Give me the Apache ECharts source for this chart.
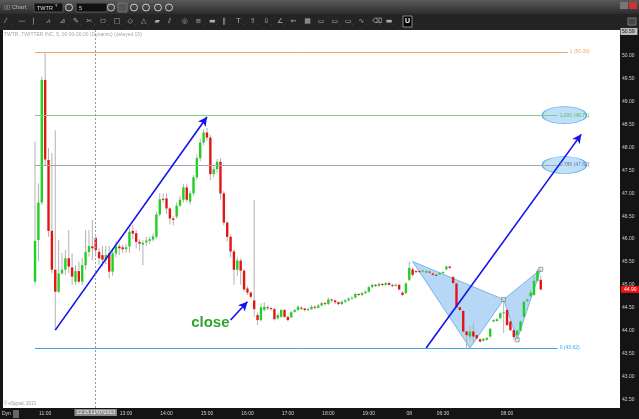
<!DOCTYPE html>
<html><head><meta charset="utf-8">
<script src="https://cdn.jsdelivr.net/npm/echarts@6/dist/echarts.min.js"></script>
<style>html,body{margin:0;padding:0;background:#141414;}#c{width:639px;height:419px;}</style>
</head><body><div id="c"></div>
<script>
// ---- data: 5-minute bars [open, close, low, high] ----
const day1 = [
[45.07,45.96,45.00,48.13],[45.98,46.80,45.51,47.22],[46.80,49.48,46.75,49.55],[49.48,47.74,47.60,50.09],
[47.73,46.18,46.05,47.99],[46.18,45.33,45.25,47.88],[45.33,44.85,44.01,48.38],[44.85,45.25,44.82,45.98],
[45.25,45.33,45.22,45.70],[45.33,45.58,45.22,45.76],[45.58,45.40,45.26,46.20],[45.38,45.18,45.00,45.69],
[45.07,45.30,45.00,45.43],[45.30,45.07,45.03,45.51],[45.07,45.43,45.00,45.59],[45.43,45.72,45.33,46.20],
[45.72,45.85,45.62,46.20],[45.84,45.80,45.54,46.42],[46.03,45.76,45.62,46.05],[45.72,45.58,45.44,45.80],
[45.65,45.55,45.40,45.85],[45.55,45.65,45.45,45.85],[45.69,45.29,45.14,45.85],[45.29,45.69,45.20,45.80],
[45.69,45.84,45.60,45.95],[45.84,45.80,45.65,45.90],[45.82,45.78,45.70,45.88],[45.78,45.82,45.70,45.90],
[45.84,46.16,45.70,46.24],[46.18,46.12,46.00,46.30],[46.13,45.94,45.80,46.20],[45.94,45.90,45.75,46.00],
[45.88,45.92,45.43,45.98],[45.93,45.97,45.85,46.05],[45.96,46.00,45.90,46.05],[45.99,46.06,45.95,46.12],
[46.05,46.54,46.00,46.60],[46.54,46.87,46.50,47.00],[46.88,46.86,46.80,47.00],[46.89,46.67,46.55,47.00],
[46.67,46.45,46.32,46.70],[46.45,46.42,46.30,46.50],[46.49,46.73,46.45,46.80],[46.73,46.86,46.70,46.95],
[46.86,47.13,46.80,47.20],[47.13,46.86,46.80,47.20],[46.82,47.00,46.75,47.05],[47.00,47.35,46.95,47.40],
[47.35,47.77,47.30,47.85],[47.77,48.11,47.70,48.20],[48.11,48.33,48.05,48.40],[48.33,48.22,48.15,48.43],
[48.22,47.42,47.29,48.28],[47.42,47.53,47.35,47.60],[47.53,47.69,47.45,47.75],[47.69,47.00,46.86,47.77],
[47.00,46.36,46.30,47.05],[46.36,46.05,45.95,46.40],[46.05,45.73,45.60,46.10],[45.73,45.33,45.00,45.78],
[45.33,45.53,45.20,45.60],[45.53,45.31,45.00,45.58],[45.31,44.90,44.85,45.35],[44.92,44.83,44.78,44.97]
];
const afterHours = [
[44.83,44.74,44.70,44.86],[44.66,44.47,44.30,46.86],[44.34,44.23,44.12,44.40],[44.23,44.51,44.20,44.60],
[44.45,44.52,44.42,44.62],[44.51,44.49,44.45,44.55],[44.49,44.47,44.44,44.52],[44.47,44.25,44.22,44.50],
[44.27,44.34,44.24,44.38],[44.30,44.45,44.28,44.48],[44.45,44.30,44.27,44.47],[44.30,44.23,44.20,44.33],
[44.29,44.40,44.27,44.43],[44.41,44.45,44.39,44.48],[44.45,44.52,44.43,44.55],[44.50,44.48,44.45,44.53],
[44.48,44.45,44.42,44.50],[44.45,44.47,44.43,44.50],[44.47,44.52,44.45,44.55],[44.52,44.50,44.47,44.55],
[44.50,44.55,44.48,44.58],[44.55,44.60,44.53,44.63],[44.60,44.58,44.55,44.62],[44.58,44.68,44.56,44.72],
[44.68,44.66,44.62,44.70],[44.66,44.62,44.58,44.68],[44.62,44.58,44.55,44.64],[44.58,44.63,44.56,44.66],
[44.63,44.66,44.60,44.69],[44.66,44.70,44.64,44.73],[44.70,44.72,44.68,44.75],[44.72,44.80,44.70,44.83],
[44.80,44.78,44.75,44.82],[44.78,44.82,44.76,44.85],[44.82,44.85,44.80,44.88],[44.85,44.95,44.83,44.98],
[44.95,45.00,44.93,45.03],[45.00,44.98,44.95,45.02],[44.98,45.02,44.96,45.05],[45.02,45.00,44.97,45.04],
[45.00,45.04,44.98,45.06],[45.04,45.00,44.98,45.06],[45.00,44.98,44.95,45.02],[44.98,45.00,44.96,45.03],
[45.00,44.90,44.88,45.02],[44.83,44.78,44.75,44.86],[44.82,45.03,44.80,45.06]
];
const day2 = [
[45.11,45.37,45.08,45.51],[45.34,45.22,45.18,45.38],[45.30,45.28,45.25,45.33],[45.30,45.29,45.26,45.32],
[45.30,45.31,45.27,45.34],[45.27,45.30,45.25,45.32],[45.29,45.28,45.25,45.31],[45.25,45.22,45.20,45.27],
[45.22,45.21,45.19,45.24],[45.23,45.26,45.21,45.28],[45.26,45.28,45.24,45.30],[45.34,45.40,45.32,45.42],
[45.40,45.37,45.35,45.42],[45.17,45.04,45.02,45.20],[45.03,44.51,44.49,45.05],[44.51,44.45,44.42,44.53],
[44.43,43.98,43.95,44.45],[43.98,43.90,43.62,44.00],[43.87,43.98,43.80,44.10],[43.98,43.87,43.72,44.16],
[43.90,43.83,43.80,43.92],[43.81,43.76,43.74,43.83],[43.78,43.82,43.76,43.84],[43.80,43.84,43.78,43.86],
[43.87,44.04,43.85,44.05],[44.20,44.23,44.18,44.25],[44.21,44.25,44.19,44.27],[44.27,44.38,44.25,44.40],
[44.38,44.40,43.95,44.68],[44.45,44.12,44.10,44.50],[44.20,44.01,43.99,44.22],[44.01,43.86,43.80,44.03],
[43.90,44.00,43.88,44.02],[44.00,44.20,43.98,44.22],[44.30,44.63,44.28,44.65],[44.65,44.68,44.62,44.70],
[44.75,44.83,44.73,44.90],[44.78,45.09,44.76,45.20],[45.09,45.30,45.07,45.34],[45.11,44.90,44.88,45.20]
];
const padLeft = 9, totalSlots = 183;
// x tick labels: [slot index, text]
const xTicks = [[12,'11:00'],[36,'13:00'],[48,'14:00'],[60,'15:00'],[72,'16:00'],[84,'17:00'],[96,'18:00'],[108,'19:00'],[120,'08'],[130,'06:30'],[149,'08:00']];
// fibonacci levels
const fibLevels = [50.09, 48.71, 47.62, 43.62];
const fibLabels = ['1 (50.09)', '1.000 (48.71)', '0.786 (47.62)', '0 (43.62)'];
const fibColors = ['#f6a265', '#7fcf7f', '#a4a4b4', '#3aa6f0'];
const fibTextColors = ['#f6a265', '#5cb85c', '#6a7a9a', '#3aa6f0'];
const fibEnd = [167, 164, 164, 164];
// trend arrows [x1, p1, x2, p2]
const arrows = [[15,44.01,60,48.67],[67,44.23,72,44.63],[125,43.62,171,48.29]];
// butterfly pattern vertices
const patXAB = [[121,45.51],[138,43.62],[148,44.68]];
const patBCD = [[148,44.68],[152,43.80],[159,45.34]];
const patMarks = [[148,44.68],[152,43.80],[159,45.34]];
// target ellipses
const targets = [[166,48.71],[166,47.62]];
const crossSlot = 27, crossLabel = '12:15 11/07/2013';
const lastPrice = 44.90;

const bars = day1.concat(afterHours, day2);
const categories = [];
for (let i = 0; i < totalSlots; i++) categories.push('s' + i);
const candleData = bars.map((r, i) => [i + padLeft, r[0], r[1], r[2], r[3]]);
const tickMap = {}; xTicks.forEach(t => tickMap[t[0]] = t[1]);

const chart = echarts.init(document.getElementById('c'), null, {renderer: 'canvas'});

function polyItem(pts) {
  return function (params, api) {
    const points = pts.map(p => api.coord([p[0], p[1]]));
    return {type: 'polygon', shape: {points: points},
      style: {fill: 'rgba(110,175,238,0.50)', stroke: '#78b6ea', lineWidth: 1}};
  };
}

const markLines = [];
fibLevels.forEach((v, k) => {
  markLines.push([
    {coord: [padLeft, v], lineStyle: {color: fibColors[k], width: 1, type: 'solid'},
     label: {show: true, position: 'end', formatter: fibLabels[k], color: fibTextColors[k], fontSize: 5, distance: 2}},
    {coord: [fibEnd[k], v]}
  ]);
});
arrows.forEach(a => {
  markLines.push([
    {coord: [a[0], a[1]], symbol: 'none', lineStyle: {color: '#1212ee', width: 1.6, type: 'solid'}, label: {show: false}},
    {coord: [a[2], a[3]], symbol: 'arrow', symbolSize: [7, 9]}
  ]);
});
markLines.push({xAxis: crossSlot, symbol: 'none', lineStyle: {color: '#9a9a9a', type: [2, 2], width: 1},
  label: {show: true, position: 'start', formatter: crossLabel, color: '#fff', backgroundColor: '#8c8c8c', fontSize: 5, padding: [1, 2], distance: 1}});

const icons = ['⁄','—','|','⩘','⊿','✎','✂','⬭','□','◇','△','▰','⫽','◎','≡','▬','‖','T','⇧','⇩','∠','⇐','▦','▭','▭','▭','∿','⌫','▬'];
const graphics = [
  {type: 'rect', shape: {x: 0, y: 0, width: 639, height: 14}, style: {fill: new echarts.graphic.LinearGradient(0, 0, 0, 1, [{offset: 0, color: '#5a5a5a'}, {offset: 1, color: '#2c2c2c'}])}, z: 10},
  {type: 'rect', shape: {x: 0, y: 14, width: 639, height: 16}, style: {fill: '#242424'}, z: 10},
  {type: 'text', x: 4, y: 4, style: {text: '▯▯ Chart', fill: '#b8b8b8', fontSize: 6, fontFamily: 'Liberation Sans'}, z: 11},
  {type: 'rect', shape: {x: 34, y: 3, width: 29, height: 9}, style: {fill: '#111', stroke: '#555'}, z: 11},
  {type: 'text', x: 37, y: 5, style: {text: 'TWTR', fill: '#ddd', fontSize: 5.5, fontFamily: 'Liberation Sans'}, z: 12},
  {type: 'text', x: 55, y: 3, style: {text: '▾', fill: '#4ab0ff', fontSize: 5}, z: 12},
  {type: 'circle', shape: {cx: 69, cy: 7.5, r: 3.5}, style: {fill: 'none', stroke: '#ccc', lineWidth: 1}, z: 11},
  {type: 'rect', shape: {x: 76, y: 3, width: 31, height: 9}, style: {fill: '#111', stroke: '#555'}, z: 11},
  {type: 'text', x: 79, y: 5, style: {text: '5', fill: '#ddd', fontSize: 5.5, fontFamily: 'Liberation Sans'}, z: 12},
  {type: 'circle', shape: {cx: 111, cy: 7.5, r: 3.5}, style: {fill: 'none', stroke: '#ccc', lineWidth: 1}, z: 11},
  {type: 'rect', shape: {x: 118, y: 3, width: 9, height: 9}, style: {fill: '#555', stroke: '#777'}, z: 11},
  {type: 'circle', shape: {cx: 134, cy: 7.5, r: 3.5}, style: {fill: 'none', stroke: '#ccc', lineWidth: 1}, z: 11},
  {type: 'circle', shape: {cx: 146, cy: 7.5, r: 3.5}, style: {fill: 'none', stroke: '#ccc', lineWidth: 1}, z: 11},
  {type: 'circle', shape: {cx: 158, cy: 7.5, r: 3.5}, style: {fill: 'none', stroke: '#ccc', lineWidth: 1}, z: 11},
  {type: 'circle', shape: {cx: 169, cy: 7.5, r: 3.5}, style: {fill: 'none', stroke: '#ccc', lineWidth: 1}, z: 11},
  {type: 'rect', shape: {x: 620, y: 2, width: 8, height: 7}, style: {fill: '#777'}, z: 11},
  {type: 'rect', shape: {x: 629, y: 2, width: 8, height: 7}, style: {fill: '#c33'}, z: 11},
  {type: 'rect', shape: {x: 628, y: 18, width: 8, height: 7}, style: {fill: '#444', stroke: '#777'}, z: 11},
  {type: 'text', x: 4, y: 32, style: {text: 'TWTR, TWITTER INC, 5, 00:00-00:00 (Dynamic) (delayed 15)', fill: '#a8a8a8', fontSize: 5, fontFamily: 'Liberation Sans'}, z: 11},
  {type: 'text', x: 4, y: 401, style: {text: '© eSignal, 2013', fill: '#999', fontSize: 4.5, fontFamily: 'Liberation Sans'}, z: 11},
  {type: 'text', x: 2, y: 411, style: {text: 'Dyn', fill: '#ddd', fontSize: 5, fontFamily: 'Liberation Sans'}, z: 11},
  {type: 'rect', shape: {x: 13, y: 410, width: 6, height: 8}, style: {fill: '#666'}, z: 11},
  {type: 'rect', shape: {x: 620.5, y: 28, width: 17, height: 7}, style: {fill: '#bbb'}, z: 11},
  {type: 'text', x: 622, y: 29.5, style: {text: '50.59', fill: '#222', fontSize: 5, fontFamily: 'Liberation Sans'}, z: 12}
];
icons.forEach((g, i) => {
  graphics.push({type: 'text', x: 5 + i * 13.6, y: 17.5, style: {text: g, fill: '#b0b0b0', fontSize: 7, fontFamily: 'DejaVu Sans'}, z: 11});
  graphics.push({type: 'text', x: 12 + i * 13.6, y: 20, style: {text: '.', fill: '#888', fontSize: 6}, z: 11});
});
graphics.push({type: 'rect', shape: {x: 403, y: 16, width: 9, height: 11}, style: {fill: '#000', stroke: '#888'}, z: 11});
graphics.push({type: 'text', x: 405, y: 18, style: {text: 'U', fill: '#fff', fontSize: 7, fontWeight: 'bold', fontFamily: 'Liberation Sans'}, z: 12});

chart.setOption({
  animation: false,
  backgroundColor: '#141414',
  textStyle: {fontFamily: 'Liberation Sans'},
  grid: {left: 3, right: 19, top: 30, bottom: 11, show: true, backgroundColor: '#ffffff', borderWidth: 0},
  xAxis: {
    type: 'category', data: categories, boundaryGap: true,
    axisLine: {show: false}, axisTick: {show: false}, splitLine: {show: false},
    axisLabel: {color: '#d0d0d0', fontSize: 5, margin: 3, hideOverlap: false,
      interval: (i) => tickMap[i] !== undefined, formatter: (v, i) => tickMap[i] || ''}
  },
  yAxis: {
    type: 'value', position: 'right', min: 42.308, max: 50.571, splitNumber: 16, scale: true,
    axisLine: {show: false}, axisTick: {show: false}, splitLine: {show: false},
    axisLabel: {color: '#d0d0d0', fontSize: 5, margin: 2, showMinLabel: false, showMaxLabel: false,
      formatter: v => Math.abs(v * 2 - Math.round(v * 2)) < 1e-6 ? v.toFixed(2) : ''}
  },
  graphic: graphics,
  series: [
    {type: 'scatter', z: 1, silent: true, symbol: 'circle', symbolSize: [44, 17], data: targets,
      itemStyle: {color: 'rgba(120,190,242,0.6)', borderColor: '#4a9fe2', borderWidth: 1}},
    {type: 'custom', z: 2, silent: true, data: [[0]], renderItem: polyItem(patXAB)},
    {type: 'custom', z: 2, silent: true, data: [[0]], renderItem: polyItem(patBCD)},
    {type: 'custom', z: 3, silent: true, data: candleData, encode: {x: 0, y: [1, 2, 3, 4]},
      renderItem: function (params, api) {
        const x = api.value(0), o = api.value(1), c = api.value(2), l = api.value(3), h = api.value(4);
        const pO = api.coord([x, o]), pC = api.coord([x, c]), pL = api.coord([x, l]), pH = api.coord([x, h]);
        const w = 2.4, top = Math.min(pO[1], pC[1]), bh = Math.max(Math.abs(pO[1] - pC[1]), 1);
        return {type: 'group', children: [
          {type: 'line', shape: {x1: pH[0], y1: pH[1], x2: pL[0], y2: pL[1]}, style: {stroke: '#b2b2b2', lineWidth: 1}},
          {type: 'rect', shape: {x: pO[0] - w / 2, y: top, width: w, height: bh}, style: {fill: c >= o ? '#1fd21f' : '#e51515'}}
        ]};
      },
      markLine: {silent: true, symbol: ['none', 'none'], animation: false, data: markLines},
      markPoint: {silent: true, data: [{coord: [61, 44.18], symbol: 'rect', symbolSize: 0,
        label: {show: true, position: 'inside', formatter: 'close', color: '#2fa52f', fontSize: 15, fontWeight: 'bold', fontFamily: 'Liberation Sans'}}]}
    },
    {type: 'scatter', z: 4, silent: true, symbol: 'rect', symbolSize: 4, data: patMarks,
      itemStyle: {color: 'rgba(230,230,230,0.6)', borderColor: '#888', borderWidth: 1}},
    {type: 'line', z: 5, silent: true, data: [], markLine: {silent: true, symbol: ['none', 'none'], animation: false,
      data: [{yAxis: lastPrice, lineStyle: {color: 'rgba(0,0,0,0)', width: 0},
        label: {show: true, position: 'end', formatter: lastPrice.toFixed(2), color: '#fff', backgroundColor: '#ee1111', fontSize: 5, padding: [1, 3], distance: 1}}]}}
  ]
});
</script></body></html>
